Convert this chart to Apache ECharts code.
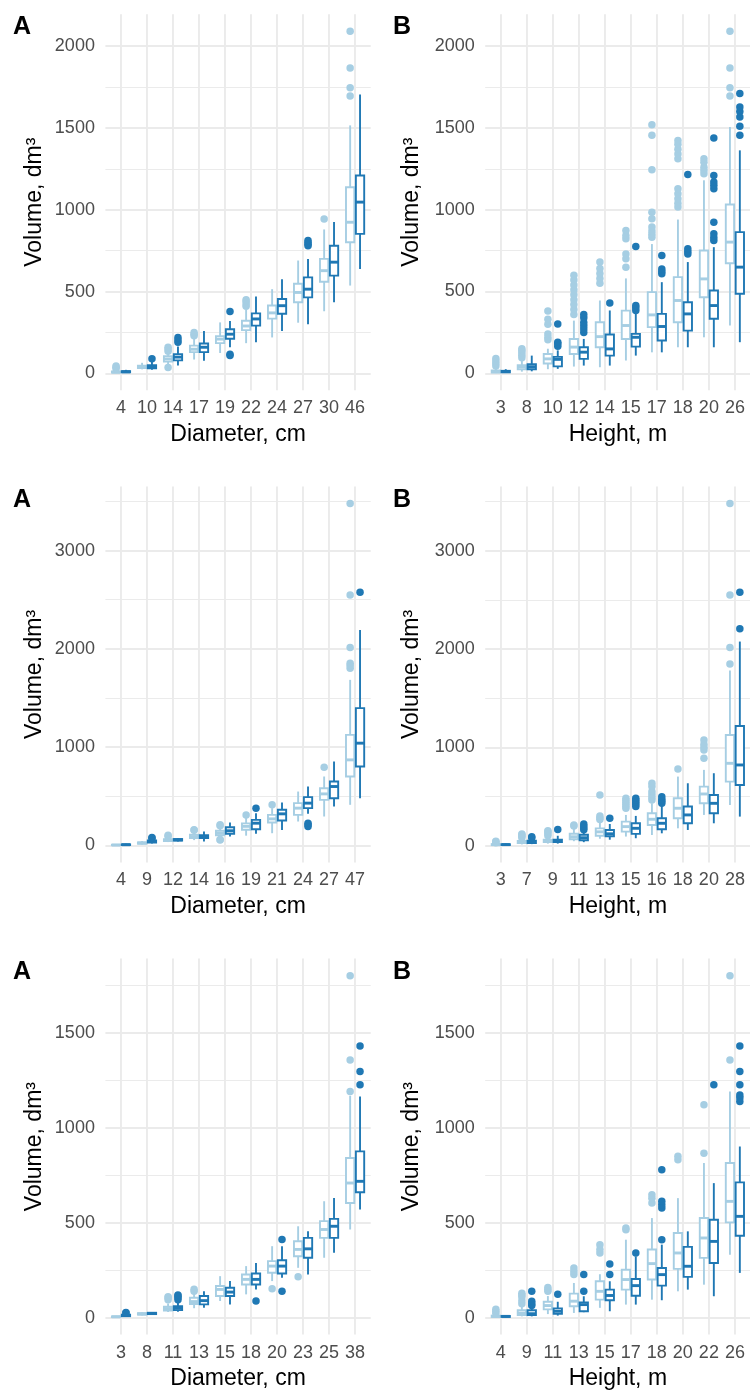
<!DOCTYPE html>
<html>
<head>
<meta charset="utf-8">
<title>Volume by diameter and height classes</title>
<script src="https://cdn.jsdelivr.net/npm/echarts@6.0.0/dist/echarts.min.js"></script>
<style>
  html, body { margin: 0; padding: 0; background: #fff; }
  #chart { width: 750px; height: 1392px; }
</style>
</head>
<body>
<div id="chart"></div>
<script>
// box = [lower whisker, Q1, median, Q3, upper whisker]; outliers listed per class
// ---- dataset 1 ----
const diam1 = ['4', '10', '14', '17', '19', '22', '24', '27', '30', '46']
const diam1Light = [[2, 5, 8, 12, 20], [25, 33, 40, 47, 65], [50, 72, 88, 105, 125], [85, 130, 148, 170, 215], [125, 185, 210, 228, 312],
  [185, 265, 290, 322, 390], [220, 335, 370, 415, 515], [310, 435, 495, 548, 690], [380, 560, 628, 700, 880], [537, 802, 924, 1138, 1516]]
const diam1Dark = [[3, 7, 10, 14, 22], [22, 32, 40, 50, 70], [48, 80, 100, 118, 165], [78, 130, 160, 183, 260], [160, 212, 240, 270, 320],
  [190, 292, 333, 367, 470], [260, 365, 414, 455, 575], [300, 465, 515, 587, 700], [435, 598, 680, 780, 925], [639, 853, 1047, 1210, 1705]]
const diam1LightOut = [[30, 38, 45], [], [37, 135, 150, 160], [230, 240, 250], [], [410, 425, 440, 450], [], [], [944], [1695, 1746, 1867, 2091]]
const diam1DarkOut = [[], [90], [190, 205, 220], [], [110, 118, 378], [], [], [780, 790, 800, 812], [], []]

const height1 = ['3', '8', '10', '12', '14', '15', '17', '18', '20', '26']
const height1Light = [[1, 5, 10, 18, 35], [10, 25, 40, 50, 80], [25, 60, 88, 118, 150], [41, 118, 160, 210, 322], [37, 159, 224, 312, 445],
  [78, 210, 292, 383, 580], [128, 282, 357, 496, 790], [159, 312, 445, 588, 940], [220, 465, 577, 751, 1180], [292, 673, 802, 1032, 1506]]
const height1Dark = [[2, 6, 10, 15, 25], [12, 25, 40, 55, 108], [27, 42, 85, 100, 140], [47, 88, 129, 159, 210], [47, 108, 149, 237, 384],
  [108, 163, 220, 241, 363], [128, 200, 286, 363, 557], [159, 261, 363, 434, 680], [159, 333, 414, 506, 771], [190, 486, 649, 863, 1363]]
const height1LightOut = [[45, 60, 75, 90], [95, 110, 125, 140, 150], [205, 220, 240, 300, 330, 380],
  [360, 390, 420, 450, 480, 510, 540, 570, 600], [550, 580, 610, 640, 680], [649, 700, 730, 822, 843, 873],
  [832, 850, 870, 894, 945, 985, 1244, 1455, 1520], [1016, 1040, 1067, 1098, 1128, 1312, 1340, 1370, 1400, 1424],
  [1220, 1240, 1260, 1290, 1312], [1695, 1746, 1867, 2091]]
const height1DarkOut = [[], [], [165, 180, 190, 302], [250, 270, 290, 310, 340, 360], [430], [384, 400, 414, 775],
  [608, 623, 638, 720], [730, 745, 761, 1216], [812, 830, 853, 924, 1128, 1150, 1169, 1210, 1438], [1455, 1510, 1567, 1600, 1628, 1710]]

// ---- dataset 2 ----
const diam2 = ['4', '9', '12', '14', '16', '19', '21', '24', '27', '47']
const diam2Light = [[1, 3, 5, 8, 12], [10, 18, 25, 32, 45], [35, 45, 55, 65, 80], [55, 75, 90, 110, 140], [75, 105, 125, 150, 185],
  [100, 160, 195, 225, 290], [125, 234, 271, 312, 380], [244, 312, 380, 431, 549], [295, 464, 525, 583, 702], [414, 702, 871, 1125, 1685]]
const diam2Dark = [[2, 5, 8, 12, 18], [20, 30, 40, 52, 70], [40, 50, 58, 66, 75], [41, 75, 90, 105, 142], [92, 120, 150, 185, 234],
  [119, 166, 227, 261, 329], [159, 254, 322, 363, 437], [322, 380, 431, 492, 600], [397, 481, 600, 651, 854], [481, 803, 1041, 1397, 2193]]
const diam2LightOut = [[], [], [95, 105], [155, 160], [55, 62, 200, 210], [310], [414], [], [797], [1804, 1830, 1854, 2014, 2549, 3478]]
const diam2DarkOut = [[], [75, 82], [], [], [], [380], [], [193, 210, 227], [], [2576]]

const height2 = ['3', '7', '9', '11', '13', '15', '16', '18', '20', '28']
const height2Light = [[2, 5, 10, 15, 25], [12, 25, 35, 48, 70], [20, 35, 50, 60, 90], [45, 65, 90, 120, 180], [70, 100, 140, 175, 240],
  [92, 142, 193, 244, 312], [108, 210, 268, 329, 430], [176, 278, 380, 481, 702], [312, 430, 525, 600, 770], [414, 651, 837, 1125, 1780]]
const height2Dark = [[3, 6, 10, 14, 22], [15, 25, 35, 50, 65], [20, 35, 45, 60, 100], [35, 55, 80, 110, 150], [60, 95, 120, 158, 220],
  [75, 119, 176, 227, 302], [125, 166, 227, 278, 414], [159, 227, 312, 397, 634], [227, 329, 430, 515, 736], [295, 617, 820, 1217, 2075]]
const height2LightOut = [[30, 40, 45], [80, 95, 110, 118], [100, 120, 140, 150], [200, 210], [265, 280, 300, 515],
  [380, 400, 420, 440, 460, 481], [464, 490, 520, 550, 600, 634], [780], [888, 973, 1000, 1030, 1075], [1848, 2014, 2549, 3478]]
const height2DarkOut = [[], [80, 90], [165], [160, 180, 200, 220], [278], [397, 420, 440, 460, 481], [430, 450, 470, 498], [], [], [2204, 2576]]

// ---- dataset 3 ----
const diam3 = ['3', '8', '11', '13', '15', '18', '20', '23', '25', '38']
const diam3Light = [[1, 3, 5, 7, 10], [12, 16, 20, 24, 28], [30, 38, 48, 58, 75], [50, 72, 85, 105, 125], [88, 114, 149, 167, 219],
  [123, 175, 202, 228, 272], [193, 237, 272, 298, 377], [263, 324, 360, 403, 482], [316, 421, 465, 509, 614], [465, 605, 710, 842, 1170]]
const diam3Dark = [[5, 8, 12, 16, 20], [15, 19, 22, 26, 30], [32, 40, 50, 60, 80], [53, 70, 90, 114, 140], [70, 114, 135, 158, 193],
  [149, 175, 202, 233, 289], [210, 233, 272, 303, 377], [228, 316, 363, 421, 456], [342, 421, 482, 521, 631], [570, 661, 719, 877, 1166]]
const diam3LightOut = [[], [], [95, 105, 110], [140, 150], [], [], [153], [216], [], [1193, 1359, 1803]]
const diam3DarkOut = [[25, 28], [], [95, 105, 115, 120], [], [], [88], [140, 412], [], [], [1228, 1298, 1433]]

const height3 = ['4', '9', '11', '13', '15', '17', '18', '20', '22', '26']
const height3Light = [[2, 5, 8, 12, 18], [8, 15, 25, 40, 60], [20, 45, 65, 85, 115], [26, 61, 88, 128, 184], [53, 96, 140, 193, 230],
  [70, 149, 202, 254, 412], [96, 202, 286, 360, 526], [140, 258, 342, 447, 631], [175, 316, 421, 526, 816], [333, 503, 614, 816, 1193]]
const height3Dark = [[3, 5, 8, 10, 14], [8, 15, 22, 40, 55], [12, 22, 35, 50, 85], [30, 35, 70, 82, 114], [35, 93, 118, 149, 193],
  [70, 117, 170, 205, 324], [93, 170, 228, 263, 386], [149, 216, 272, 374, 456], [114, 289, 403, 517, 710], [237, 433, 535, 714, 903]]
const height3LightOut = [[25, 35, 45], [75, 90, 110, 120, 130], [140, 150, 160], [228, 245, 263], [342, 360, 386],
  [465, 474], [605, 630, 649], [833, 851], [868, 1123], [1359, 1803]]
const height3DarkOut = [[], [65, 75, 88, 140], [125], [140, 228], [228, 284], [342], [412, 579, 596, 614, 781], [], [1228],
  [1140, 1160, 1175, 1228, 1298, 1433]]

// y breaks per row
const major1 = [0, 500, 1000, 1500, 2000]
const minor1 = [250, 750, 1250, 1750]
const major2 = [0, 1000, 2000, 3000]
const minor2 = [500, 1500, 2500, 3500]
const major3 = [0, 500, 1000, 1500]
const minor3 = [250, 750, 1250, 1750]

const LIGHT = '#A6CEE3'
const DARK = '#1F78B4'
const GRID = '#EBEBEB'
const FONT = '"Liberation Sans", Arial, sans-serif'
const DODGE = 0.19 // half distance between the paired boxes (category units)
const BOX_W = 0.32

const panels = [
  { tag: 'A', xName: 'Diameter, cm', cats: diam1, light: diam1Light, dark: diam1Dark, lightOut: diam1LightOut, darkOut: diam1DarkOut, major: major1, minor: minor1 },
  { tag: 'B', xName: 'Height, m', cats: height1, light: height1Light, dark: height1Dark, lightOut: height1LightOut, darkOut: height1DarkOut, major: major1, minor: minor1 },
  { tag: 'A', xName: 'Diameter, cm', cats: diam2, light: diam2Light, dark: diam2Dark, lightOut: diam2LightOut, darkOut: diam2DarkOut, major: major2, minor: minor2 },
  { tag: 'B', xName: 'Height, m', cats: height2, light: height2Light, dark: height2Dark, lightOut: height2LightOut, darkOut: height2DarkOut, major: major2, minor: minor2 },
  { tag: 'A', xName: 'Diameter, cm', cats: diam3, light: diam3Light, dark: diam3Dark, lightOut: diam3LightOut, darkOut: diam3DarkOut, major: major3, minor: minor3 },
  { tag: 'B', xName: 'Height, m', cats: height3, light: height3Light, dark: height3Dark, lightOut: height3LightOut, darkOut: height3DarkOut, major: major3, minor: minor3 },
]

// panel geometry
const colLeft = [105.4, 485.2]
const rowTop = [14.2, 486.5, 958.6]
const tagX = [13, 393]
const tagY = [27, 500.5, 972]
const yNameGap = [59, 62]
const PANEL_W = 265.3
const PANEL_H = 376

// ggplot-like limits: data range expanded by 5%
function yLimits(p) {
  const vals = [].concat(...p.light, ...p.dark, ...p.lightOut, ...p.darkOut)
  const lo = Math.min(...vals)
  const hi = Math.max(...vals)
  const pad = (hi - lo) * 0.05
  return [lo - pad, hi + pad]
}

function boxRenderer(dodge, color) {
  return function (params, api) {
    const x = api.value(0) + dodge
    const cx = api.coord([x, 0])[0]
    const yLo = api.coord([x, api.value(1)])[1]
    const yQ1 = api.coord([x, api.value(2)])[1]
    const yMed = api.coord([x, api.value(3)])[1]
    const yQ3 = api.coord([x, api.value(4)])[1]
    const yHi = api.coord([x, api.value(5)])[1]
    const half = api.size([BOX_W, 0])[0] / 2
    const line = { stroke: color, lineWidth: 1.9 }
    return {
      type: 'group',
      children: [
        { type: 'line', shape: { x1: cx, y1: yHi, x2: cx, y2: yQ3 }, style: line },
        { type: 'line', shape: { x1: cx, y1: yQ1, x2: cx, y2: yLo }, style: line },
        { type: 'rect', shape: { x: cx - half, y: yQ3, width: half * 2, height: yQ1 - yQ3 }, style: { fill: '#fff', stroke: color, lineWidth: 1.9 } },
        { type: 'line', shape: { x1: cx - half, y1: yMed, x2: cx + half, y2: yMed }, style: { stroke: color, lineWidth: 2.9 } },
      ],
    }
  }
}

const grid = []
const xAxis = []
const yAxis = []
const series = []
const graphic = []

panels.forEach((p, k) => {
  const row = Math.floor(k / 2)
  const col = k % 2
  const [ymin, ymax] = yLimits(p)
  const idx = p.cats.map((c, i) => i)

  grid.push({ left: colLeft[col], top: rowTop[row], width: PANEL_W, height: PANEL_H, outerBoundsMode: 'none' })

  xAxis.push({
    type: 'value',
    gridIndex: k,
    min: -0.6,
    max: p.cats.length - 0.4,
    name: p.xName,
    nameLocation: 'middle',
    nameGap: 33,
    nameTextStyle: { fontSize: 23, color: '#000', fontFamily: FONT },
    axisLine: { show: false },
    axisTick: { show: false, customValues: idx },
    axisLabel: { customValues: idx, formatter: v => p.cats[v], fontSize: 18, color: '#4D4D4D', margin: 9, fontFamily: FONT },
    splitLine: { show: true, lineStyle: { color: GRID, width: 1.9 } },
  })

  // major breaks with labels
  yAxis.push({
    type: 'value',
    gridIndex: k,
    min: ymin,
    max: ymax,
    name: 'Volume, dm³',
    nameLocation: 'middle',
    nameGap: yNameGap[col],
    nameTextStyle: { fontSize: 23, color: '#000', fontFamily: FONT },
    axisLine: { show: false },
    axisTick: { show: false, customValues: p.major },
    axisLabel: { customValues: p.major, formatter: v => String(v), fontSize: 18, color: '#4D4D4D', margin: 10.5, fontFamily: FONT },
    splitLine: { show: true, lineStyle: { color: GRID, width: 1.9 } },
  })
  // minor breaks, lines only
  yAxis.push({
    type: 'value',
    gridIndex: k,
    min: ymin,
    max: ymax,
    axisLine: { show: false },
    axisTick: { show: false, customValues: p.minor },
    axisLabel: { show: false },
    splitLine: { show: true, lineStyle: { color: GRID, width: 1 } },
  })

  const groups = [
    { boxes: p.light, outs: p.lightOut, dodge: -DODGE, color: LIGHT },
    { boxes: p.dark, outs: p.darkOut, dodge: DODGE, color: DARK },
  ]
  groups.forEach((g) => {
    series.push({
      type: 'scatter',
      xAxisIndex: k,
      yAxisIndex: 2 * k,
      symbolSize: 7.5,
      itemStyle: { color: g.color, opacity: 1 },
      silent: true,
      data: g.outs.flatMap((vals, i) => vals.map(v => [i + g.dodge, v])),
    })
    series.push({
      type: 'custom',
      xAxisIndex: k,
      yAxisIndex: 2 * k,
      silent: true,
      renderItem: boxRenderer(g.dodge, g.color),
      encode: { x: 0, y: [1, 2, 3, 4, 5] },
      data: g.boxes.map((b, i) => [i, ...b]),
    })
  })

  graphic.push({
    type: 'text',
    x: tagX[col],
    y: tagY[row],
    style: { text: p.tag, fill: '#000', fontSize: 25, fontWeight: 'bold', fontFamily: FONT, verticalAlign: 'middle' },
  })
})

const chart = echarts.init(document.getElementById('chart'))
chart.setOption({
  backgroundColor: '#fff',
  animation: false,
  textStyle: { fontFamily: FONT },
  grid,
  xAxis,
  yAxis,
  series,
  graphic,
})
</script>
</body>
</html>
